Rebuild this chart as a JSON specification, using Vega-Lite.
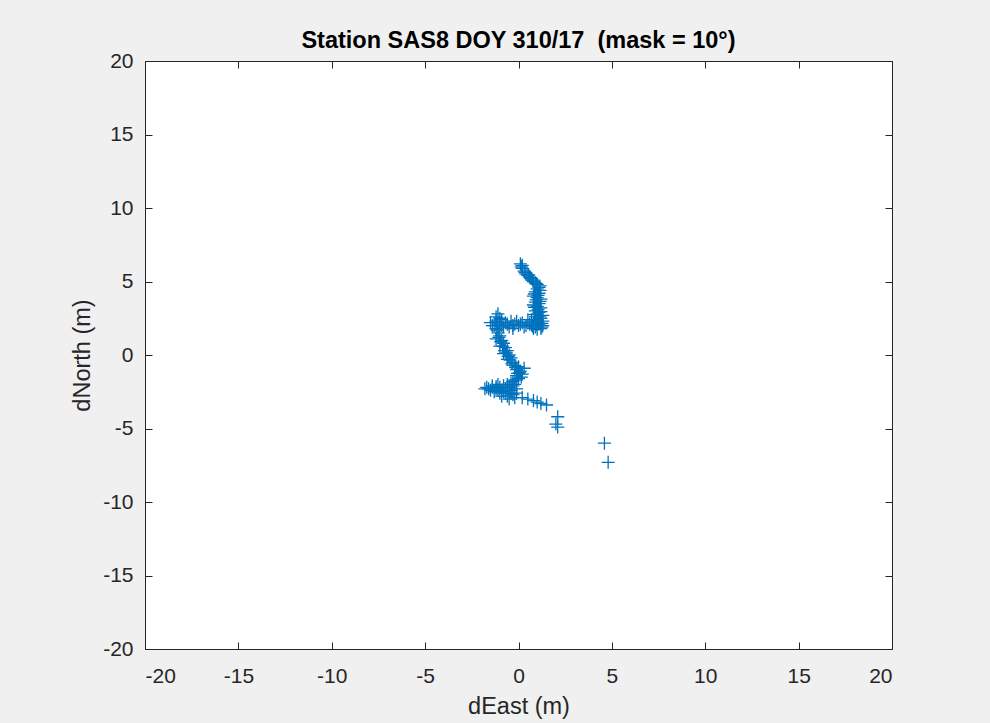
{
  "$schema": "https://vega.github.io/schema/vega-lite/v6.json",
  "width": 747,
  "height": 588,
  "autosize": {"type": "none"},
  "padding": {"left": 145, "top": 61, "right": 98, "bottom": 74},
  "background": "#f0f0f0",
  "title": {"text": "Station SAS8 DOY 310/17\u00a0\u00a0(mask = 10°)", "font": "Liberation Sans", "fontSize": 23.5, "fontWeight": "bold", "color": "#000000", "offset": -2},
  "config": {
    "view": {"fill": "white", "stroke": "#262626", "strokeWidth": 1},
    "axis": {"grid": false, "labelFont": "Liberation Sans", "labelFontSize": 21, "labelColor": "#262626", "titleFont": "Liberation Sans", "titleFontSize": 23.5, "titleFontWeight": "normal", "titleColor": "#262626", "tickColor": "#262626", "domainColor": "#262626", "tickSize": -7, "labelExpr": "'' + datum.value"}
  },
  "data": {"values": [
    {"e": 0.1, "n": 6.2}, {"e": 0.15, "n": 6.0}, {"e": 0.2, "n": 5.9}, {"e": 0.3, "n": 5.7}, {"e": 0.4, "n": 5.5}, {"e": 0.5, "n": 5.4}, {"e": 0.6, "n": 5.3}, {"e": 0.7, "n": 5.2}, {"e": 0.8, "n": 5.0}, {"e": 0.9, "n": 4.9}, {"e": 1.0, "n": 4.8}, {"e": 1.1, "n": 4.6},
    {"e": 0.2, "n": 6.1}, {"e": 0.35, "n": 5.6}, {"e": 0.55, "n": 5.45}, {"e": 0.75, "n": 5.1}, {"e": 0.95, "n": 4.85}, {"e": 1.15, "n": 4.7}, {"e": 0.65, "n": 5.25},
    {"e": 1.0, "n": 4.5}, {"e": 0.9, "n": 4.3}, {"e": 1.1, "n": 4.2}, {"e": 0.8, "n": 4.0}, {"e": 1.0, "n": 3.9}, {"e": 1.2, "n": 3.8}, {"e": 0.9, "n": 3.6}, {"e": 1.1, "n": 3.5}, {"e": 0.8, "n": 3.4}, {"e": 1.0, "n": 3.3}, {"e": 1.2, "n": 3.2}, {"e": 0.9, "n": 3.0}, {"e": 1.1, "n": 2.9}, {"e": 1.0, "n": 2.8}, {"e": 1.3, "n": 2.7}, {"e": 0.9, "n": 2.6}, {"e": 1.2, "n": 2.5}, {"e": 1.0, "n": 2.4}, {"e": 1.3, "n": 2.3}, {"e": 0.8, "n": 2.2}, {"e": 1.1, "n": 2.1}, {"e": 1.3, "n": 2.0}, {"e": 0.9, "n": 1.9}, {"e": 1.2, "n": 1.8},
    {"e": 1.15, "n": 4.4}, {"e": 0.85, "n": 4.15}, {"e": 1.05, "n": 4.05}, {"e": 0.95, "n": 3.75}, {"e": 1.15, "n": 3.65}, {"e": 0.85, "n": 3.25}, {"e": 1.05, "n": 3.1}, {"e": 1.2, "n": 2.95}, {"e": 0.85, "n": 2.75}, {"e": 1.15, "n": 2.65}, {"e": 1.05, "n": 2.2}, {"e": 0.95, "n": 2.05}, {"e": 1.25, "n": 2.15}, {"e": 0.75, "n": 1.95}, {"e": 1.0, "n": 1.75}, {"e": 1.25, "n": 1.9}, {"e": 0.7, "n": 2.05},
    {"e": 0.6, "n": 2.1}, {"e": 0.4, "n": 2.0}, {"e": 0.2, "n": 2.2}, {"e": 0.0, "n": 2.0}, {"e": -0.2, "n": 2.1}, {"e": -0.4, "n": 2.3}, {"e": -0.5, "n": 1.9}, {"e": -0.7, "n": 2.2}, {"e": -0.9, "n": 2.0}, {"e": -1.1, "n": 2.1}, {"e": -1.3, "n": 2.0}, {"e": -1.0, "n": 2.5}, {"e": -1.1, "n": 2.8}, {"e": -1.2, "n": 1.8}, {"e": 0.5, "n": 2.4}, {"e": 0.8, "n": 1.8}, {"e": -0.3, "n": 1.8}, {"e": -1.5, "n": 2.2},
    {"e": 0.3, "n": 1.9}, {"e": 0.1, "n": 2.1}, {"e": -0.1, "n": 2.3}, {"e": -0.3, "n": 2.0}, {"e": -0.6, "n": 2.1}, {"e": -0.8, "n": 1.9}, {"e": -1.0, "n": 2.2}, {"e": -1.2, "n": 2.3}, {"e": -1.4, "n": 2.0}, {"e": 0.7, "n": 2.3}, {"e": -0.9, "n": 2.4}, {"e": -1.2, "n": 2.6},
    {"e": -1.1, "n": 1.5}, {"e": -1.0, "n": 1.3}, {"e": -1.2, "n": 1.1}, {"e": -0.9, "n": 1.0}, {"e": -0.8, "n": 0.8}, {"e": -1.0, "n": 0.6}, {"e": -0.7, "n": 0.5}, {"e": -0.6, "n": 0.3}, {"e": -0.8, "n": 0.1}, {"e": -0.5, "n": 0.0}, {"e": -0.4, "n": -0.2}, {"e": -0.6, "n": -0.3}, {"e": -0.3, "n": -0.5}, {"e": -0.2, "n": -0.7}, {"e": 0.0, "n": -0.8}, {"e": -0.1, "n": -1.0}, {"e": 0.1, "n": -1.1}, {"e": 0.2, "n": -1.3}, {"e": -0.1, "n": -1.4}, {"e": 0.0, "n": -1.6}, {"e": 0.3, "n": -0.9},
    {"e": -1.15, "n": 1.7}, {"e": -1.05, "n": 1.2}, {"e": -0.95, "n": 0.9}, {"e": -0.85, "n": 0.6}, {"e": -0.75, "n": 0.3}, {"e": -0.65, "n": 0.15}, {"e": -0.55, "n": -0.1}, {"e": -0.45, "n": -0.35}, {"e": -0.35, "n": -0.6}, {"e": -0.15, "n": -0.85}, {"e": 0.05, "n": -1.2}, {"e": 0.15, "n": -1.5}, {"e": -0.05, "n": -1.25},
    {"e": -0.2, "n": -1.7}, {"e": -0.4, "n": -1.9}, {"e": -0.6, "n": -2.0}, {"e": -0.8, "n": -2.1}, {"e": -1.0, "n": -2.2}, {"e": -1.2, "n": -2.3}, {"e": -1.4, "n": -2.2}, {"e": -1.6, "n": -2.3}, {"e": -1.7, "n": -2.2}, {"e": -1.3, "n": -2.5}, {"e": -1.0, "n": -2.6}, {"e": -0.8, "n": -2.5}, {"e": -0.6, "n": -2.8}, {"e": -0.4, "n": -2.6}, {"e": -0.2, "n": -2.9}, {"e": -0.5, "n": -3.0}, {"e": -0.1, "n": -2.3}, {"e": -0.3, "n": -2.1}, {"e": -0.9, "n": -2.8}, {"e": -1.1, "n": -2.0},
    {"e": -0.3, "n": -1.8}, {"e": -0.5, "n": -2.2}, {"e": -0.7, "n": -2.3}, {"e": -0.9, "n": -2.4}, {"e": -1.1, "n": -2.4}, {"e": -1.5, "n": -2.4}, {"e": -1.8, "n": -2.3}, {"e": -1.4, "n": -2.1}, {"e": -0.7, "n": -2.6}, {"e": -0.3, "n": -2.7}, {"e": -0.1, "n": -2.6}, {"e": -0.4, "n": -2.4}, {"e": -0.2, "n": -2.0}, {"e": -1.2, "n": -2.15},
    {"e": 0.2, "n": -2.9}, {"e": 0.5, "n": -3.0}, {"e": 0.8, "n": -3.1}, {"e": 1.0, "n": -3.2}, {"e": 1.2, "n": -3.3}, {"e": 1.5, "n": -3.4}, {"e": 2.1, "n": -4.2}, {"e": 2.0, "n": -4.7}, {"e": 2.1, "n": -4.9}, {"e": 4.6, "n": -6.0}, {"e": 4.8, "n": -7.3}
  ]},
  "layer": [
    {
      "mark": {"type": "point", "shape": "M-1,0L1,0M0,-1L0,1", "filled": false, "size": 170, "strokeWidth": 1.3, "color": "#0072bd", "opacity": 1},
      "encoding": {
        "x": {"field": "e", "type": "quantitative", "scale": {"domain": [-20, 20], "nice": false, "zero": false}, "axis": {"title": "dEast (m)", "orient": "bottom", "values": [-20, -15, -10, -5, 0, 5, 10, 15, 20], "labelPadding": 23, "titlePadding": 8}},
        "y": {"field": "n", "type": "quantitative", "scale": {"domain": [-20, 20], "nice": false, "zero": false}, "axis": {"title": "dNorth (m)", "orient": "left", "values": [-20, -15, -10, -5, 0, 5, 10, 15, 20], "labelPadding": 19, "titlePadding": 8}}
      }
    },
    {
      "mark": {"type": "point", "opacity": 0},
      "encoding": {
        "x": {"field": "e", "type": "quantitative", "scale": {"domain": [-20, 20], "nice": false, "zero": false}, "axis": {"title": null, "orient": "top", "labels": false, "values": [-20, -15, -10, -5, 0, 5, 10, 15, 20]}},
        "y": {"field": "n", "type": "quantitative", "scale": {"domain": [-20, 20], "nice": false, "zero": false}, "axis": {"title": null, "orient": "right", "labels": false, "values": [-20, -15, -10, -5, 0, 5, 10, 15, 20]}}
      }
    }
  ],
  "resolve": {"axis": {"x": "independent", "y": "independent"}}
}
